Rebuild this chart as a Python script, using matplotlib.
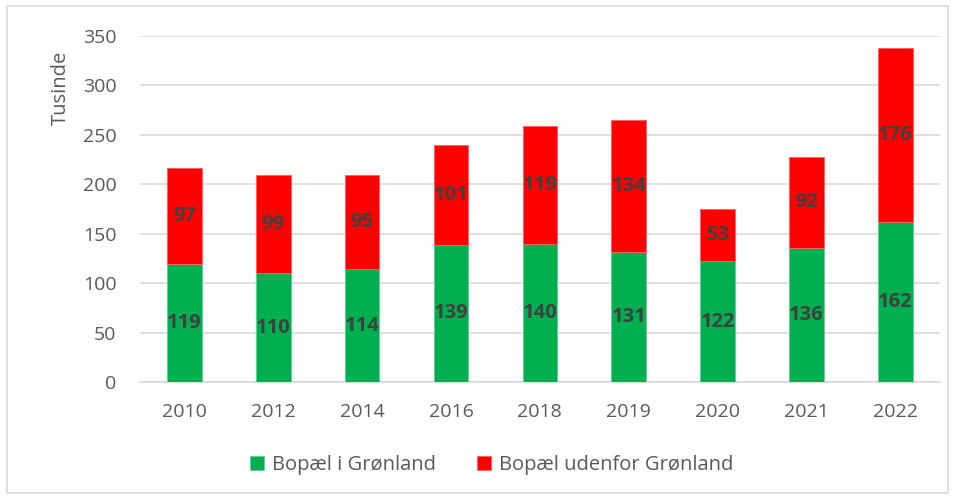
import matplotlib
matplotlib.use("Agg")
import matplotlib.pyplot as plt
from matplotlib.patches import Rectangle
import numpy as np

years = ["2010", "2012", "2014", "2016", "2018", "2019", "2020", "2021", "2022"]
inside = [119, 110, 114, 139, 140, 131, 122, 136, 162]
outside = [97, 99, 95, 101, 119, 134, 53, 92, 176]
series_names = ["Bopæl i Grønland", "Bopæl udenfor Grønland"]
y_label = "Tusinde"

plt.rcParams['font.family'] = ['Open Sans', 'DejaVu Sans']

fig = plt.figure(figsize=(9.55, 4.99), dpi=100)
ax = fig.add_axes([0.1466, 0.2345, 0.8374, 0.6935])

x = np.arange(len(years))
w = 0.39
green = "#00B050"
red = "#FF0000"
b1 = ax.bar(x, inside, w, color=green, edgecolor="#5fd08f", linewidth=0.6, label=series_names[0], zorder=3)
b2 = ax.bar(x, outside, w, bottom=inside, color=red, edgecolor="#ff6060", linewidth=0.6, label=series_names[1], zorder=3)

for xi, a, b in zip(x, inside, outside):
    ax.text(xi, a / 2, str(a), ha="center", va="center", fontsize=14.5, fontweight="bold", color="#404040", zorder=4)
    ax.text(xi, a + b / 2, str(b), ha="center", va="center", fontsize=14.5, fontweight="bold", color="#404040", zorder=4)

ax.set_xlim(-0.5, len(years) - 0.5)
ax.set_ylim(0, 350)
ax.set_yticks(range(0, 351, 50))
ax.set_xticks(x)
ax.set_xticklabels(years)
ax.tick_params(axis="both", length=0, labelsize=14, labelcolor="#595959")
ax.tick_params(axis="y", pad=17)
ax.tick_params(axis="x", pad=15)
ax.grid(axis="y", color="#D9D9D9", linewidth=1.2, zorder=0)
for s in ["top", "right", "left"]:
    ax.spines[s].set_visible(False)
ax.spines["bottom"].set_color("#D9D9D9")
ax.spines["bottom"].set_linewidth(1.2)
ax.set_ylabel(y_label, fontsize=14.5, color="#595959")
ax.yaxis.set_label_coords(-0.086, 0.85)

leg = fig.legend(handles=[b1, b2], labels=series_names, loc="center", bbox_to_anchor=(0.515, 0.068),
                 ncol=2, frameon=False, fontsize=14.5, handlelength=0.7, handleheight=0.7,
                 columnspacing=2.0, handletextpad=0.4)
for t in leg.get_texts():
    t.set_color("#595959")

fig.patches.append(Rectangle((0.007, 0.012), 0.986, 0.976, transform=fig.transFigure,
                             fill=False, edgecolor="#D9D9D9", linewidth=1.2))

fig.savefig("out.png", dpi=100)
